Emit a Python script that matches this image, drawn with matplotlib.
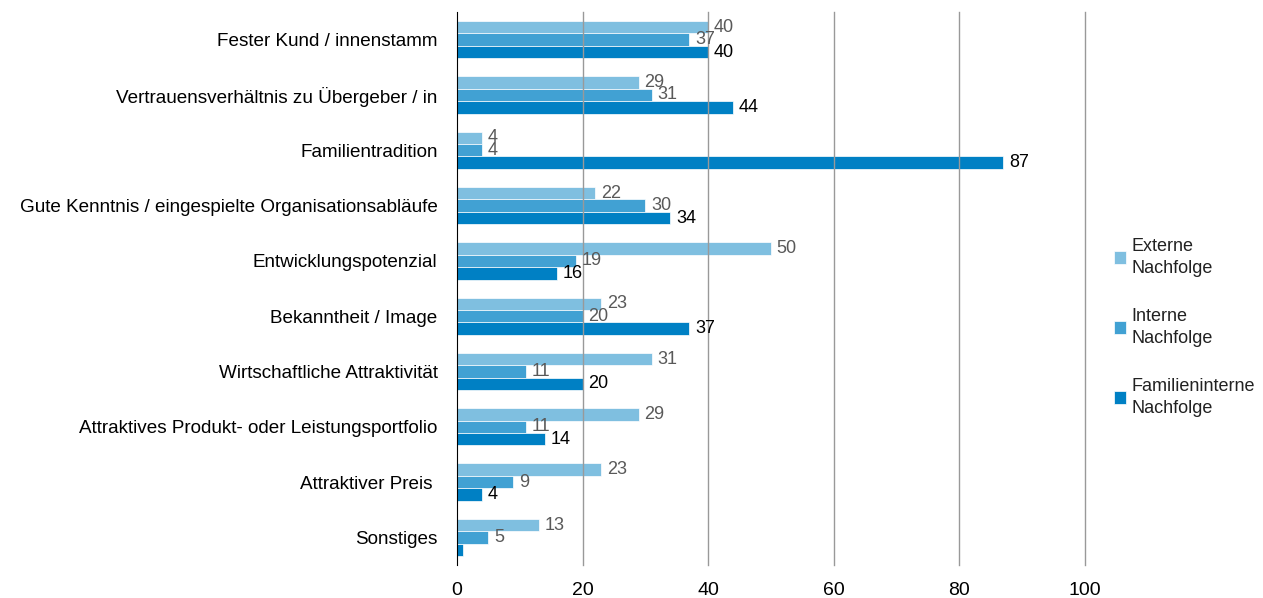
import numpy as np
import matplotlib.pyplot as plt

plt.rcParams['font.family'] = ['Liberation Sans', 'DejaVu Sans']

categories = ['Fester Kund / innenstamm',
              'Vertrauensverhältnis zu Übergeber / in',
              'Familientradition',
              'Gute Kenntnis / eingespielte Organisationsabläufe',
              'Entwicklungspotenzial',
              'Bekanntheit / Image',
              'Wirtschaftliche Attraktivität',
              'Attraktives Produkt- oder Leistungsportfolio',
              'Attraktiver Preis ',
              'Sonstiges']
externe = [40, 29, 4, 22, 50, 23, 31, 29, 23, 13]
interne = [37, 31, 4, 30, 19, 20, 11, 11, 9, 5]
familie = [40, 44, 87, 34, 16, 37, 20, 14, 4, 1]
series_names = ['Externe\nNachfolge', 'Interne\nNachfolge', 'Familieninterne\nNachfolge']
colors = ['#7fbfe0', '#41a1d3', '#0080c4']
label_colors = ['#595959', '#595959', '#000000']

fig = plt.figure(figsize=(12.63, 5.98), dpi=100)
ax = fig.add_axes([0.3618, 0.055, 0.4972, 0.925])

y = np.arange(len(categories))
h = 0.225
for i, (vals, name) in enumerate(zip([externe, interne, familie], series_names)):
    pos = y + (i - 1) * h
    ax.barh(pos, vals, height=h, color=colors[i], label=name,
            edgecolor='white', linewidth=0.5, zorder=1)
    for p, v in zip(pos, vals):
        if v < 2:
            continue
        ax.annotate(str(v), (v, p), xytext=(4, 0), textcoords='offset points',
                    va='center', ha='left', fontsize=13, color=label_colors[i], zorder=4)

ax.set_ylim(len(categories) - 0.5, -0.5)
ax.set_xlim(0, 100)
ax.set_yticks(y)
ax.set_yticklabels(categories, fontsize=13.6)
ax.set_xticks([0, 20, 40, 60, 80, 100])
ax.tick_params(axis='x', labelsize=14, length=0, pad=12)
ax.tick_params(axis='y', length=0, pad=14)
for x in [20, 40, 60, 80, 100]:
    ax.axvline(x, color='#999999', linewidth=1, zorder=3, clip_on=False)
for s in ['top', 'right', 'bottom']:
    ax.spines[s].set_visible(False)
ax.spines['left'].set_color('black')
ax.spines['left'].set_zorder(5)

leg = ax.legend(loc='center left', bbox_to_anchor=(1.02, 0.43), frameon=False,
                fontsize=13, handlelength=0.7, handleheight=0.7, handletextpad=0.3,
                labelspacing=1.7, labelcolor='#222222')
for t in leg.get_texts():
    t.set_linespacing(1.4)

fig.savefig('out.png', dpi=100)
